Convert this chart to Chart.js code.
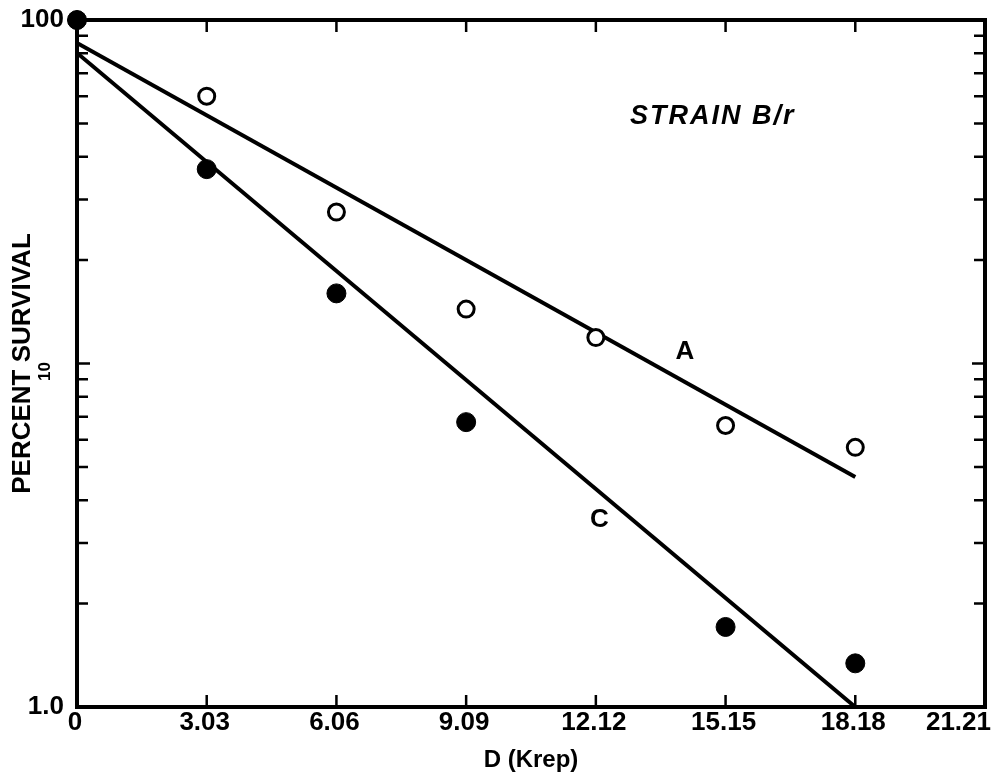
<!DOCTYPE html>
<html lang="en">
<head>
  <meta charset="UTF-8">
  <title>Percent Survival - Strain B/r</title>
  <script src="https://cdn.jsdelivr.net/npm/chart.js"></script>
  <style>
    html, body { margin: 0; padding: 0; background: #fff; }
    .chart-box { width: 1001px; height: 783px; }
  </style>
</head>
<body>
  <div class="chart-box">
    <canvas id="survival" width="1001" height="783"></canvas>
  </div>

  <script>
    // axis ticks
    const doseTicks = [0, 3.03, 6.06, 9.09, 12.12, 15.15, 18.18, 21.21];
    const doseLabels = ['0', '3.03', '6.06', '9.09', '12.12', '15.15', '18.18', '21.21'];
    const survivalTicks = [1, 2, 3, 4, 5, 6, 7, 8, 9, 10, 20, 30, 40, 50, 60, 70, 80, 90, 100];

    // curve A (open circles)
    const doseA = [0, 3.03, 6.06, 9.09, 12.12, 15.15, 18.18];
    const survivalA = [100, 60, 27.6, 14.4, 11.9, 6.6, 5.7];

    // curve C (filled circles)
    const doseC = [0, 3.03, 6.06, 9.09, 15.15, 18.18];
    const survivalC = [100, 36.8, 16.0, 6.75, 1.71, 1.34];

    // fitted straight lines
    const fitDose = [0, 18.18];
    const fitA = [85.7, 4.67];
    const fitC = [80.2, 1.0];

    // text labels inside the plot: [text, dose, survival]
    const notes = [
      ['A', 14.2, 10.8],
      ['C', 12.2, 3.5]
    ];

    const FONT = '"Liberation Sans", Arial, sans-serif';
    const pts = (xs, ys) => xs.map((x, i) => ({ x: x, y: ys[i] }));

    // frame, inward ticks, x labels, the sideways "10" and the in-plot text
    const framePlugin = {
      id: 'frame',
      afterDatasetsDraw(chart) {
        const { ctx, chartArea: a, scales: { x, y } } = chart;
        ctx.save();
        ctx.strokeStyle = '#000';
        ctx.lineWidth = 2.5;
        ctx.beginPath();
        survivalTicks.forEach(v => {
          const py = y.getPixelForValue(v);
          const len = (v === 10) ? 13 : 11;
          ctx.moveTo(a.left, py); ctx.lineTo(a.left + len, py);
          ctx.moveTo(a.right, py); ctx.lineTo(a.right - len, py);
        });
        doseTicks.forEach(v => {
          const px = x.getPixelForValue(v);
          ctx.moveTo(px, a.bottom); ctx.lineTo(px, a.bottom - 12);
          ctx.moveTo(px, a.top); ctx.lineTo(px, a.top + 12);
        });
        ctx.stroke();

        ctx.lineWidth = 4;
        ctx.strokeRect(a.left, a.top, a.right - a.left, a.bottom - a.top);

        ctx.fillStyle = '#000';
        ctx.textBaseline = 'middle';

        // x tick labels (the last one sits inside the right edge)
        ctx.font = 'bold 26px ' + FONT;
        doseTicks.forEach((v, i) => {
          const last = i === doseTicks.length - 1;
          ctx.textAlign = last ? 'right' : 'center';
          const px = last ? a.right + 6 : x.getPixelForValue(v) - 2;
          ctx.fillText(doseLabels[i], px, a.bottom + 16);
        });

        // "10" is printed sideways, and smaller, on the original
        ctx.save();
        ctx.font = 'bold 17px ' + FONT;
        ctx.translate(a.left - 32, y.getPixelForValue(10) + 8);
        ctx.rotate(-Math.PI / 2);
        ctx.textAlign = 'center';
        ctx.fillText('10', 0, 0);
        ctx.restore();

        ctx.textAlign = 'center';
        ctx.font = 'bold 26px ' + FONT;
        notes.forEach(n => {
          ctx.fillText(n[0], x.getPixelForValue(n[1]), y.getPixelForValue(n[2]));
        });

        ctx.font = 'italic bold 27px ' + FONT;
        ctx.letterSpacing = '2px';
        ctx.fillText('STRAIN B/r', x.getPixelForValue(14.85), y.getPixelForValue(52.5));
        ctx.restore();
      }
    };

    new Chart(document.getElementById('survival'), {
      type: 'scatter',
      data: {
        datasets: [
          {
            label: 'C points',
            data: pts(doseC, survivalC),
            pointRadius: 9.5,
            pointBackgroundColor: '#000',
            pointBorderColor: '#000',
            pointBorderWidth: 1,
            showLine: false,
            clip: false
          },
          {
            label: 'A points',
            data: pts(doseA, survivalA),
            pointRadius: 8,
            pointBackgroundColor: '#fff',
            pointBorderColor: '#000',
            pointBorderWidth: 3,
            showLine: false,
            clip: false
          },
          {
            label: 'A fit',
            data: pts(fitDose, fitA),
            showLine: true,
            borderColor: '#000',
            borderWidth: 4,
            pointRadius: 0,
            tension: 0
          },
          {
            label: 'C fit',
            data: pts(fitDose, fitC),
            showLine: true,
            borderColor: '#000',
            borderWidth: 4,
            pointRadius: 0,
            tension: 0
          }
        ]
      },
      options: {
        responsive: false,
        animation: false,
        devicePixelRatio: 1,
        layout: { padding: { top: 20, right: 16, left: 0, bottom: 0 } },
        plugins: {
          legend: { display: false },
          tooltip: { enabled: false }
        },
        scales: {
          x: {
            type: 'linear',
            min: 0,
            max: 21.21,
            grid: { display: false, drawTicks: false },
            border: { display: false },
            afterBuildTicks: s => { s.ticks = doseTicks.map(v => ({ value: v })); },
            afterFit: s => { s.height = 76; s.paddingLeft = 0; s.paddingRight = 0; },
            ticks: {
              autoSkip: false,
              maxRotation: 0,
              color: '#000',
              font: { family: FONT, size: 26, weight: 'bold' },
              callback: () => ''   // drawn by the frame plugin
            },
            title: {
              display: true,
              text: 'D (Krep)',
              color: '#000',
              font: { family: FONT, size: 24, weight: 'bold' },
              padding: { top: 0, bottom: 8 }
            }
          },
          y: {
            type: 'logarithmic',
            min: 1,
            max: 100,
            grid: { display: false, drawTicks: false },
            border: { display: false },
            afterBuildTicks: s => { s.ticks = survivalTicks.map(v => ({ value: v })); },
            afterFit: s => { s.width = 77; s.paddingTop = 0; s.paddingBottom = 0; },
            ticks: {
              autoSkip: false,
              padding: 13,
              color: '#000',
              font: { family: FONT, size: 26, weight: 'bold' },
              callback: v => (v === 1 ? '1.0' : v === 100 ? '100' : '')
            },
            title: {
              display: true,
              text: 'PERCENT SURVIVAL',
              color: '#000',
              font: { family: FONT, size: 26, weight: 'bold' },
              padding: { top: 7, bottom: 0 }
            }
          }
        }
      },
      plugins: [framePlugin]
    });
  </script>
</body>
</html>
